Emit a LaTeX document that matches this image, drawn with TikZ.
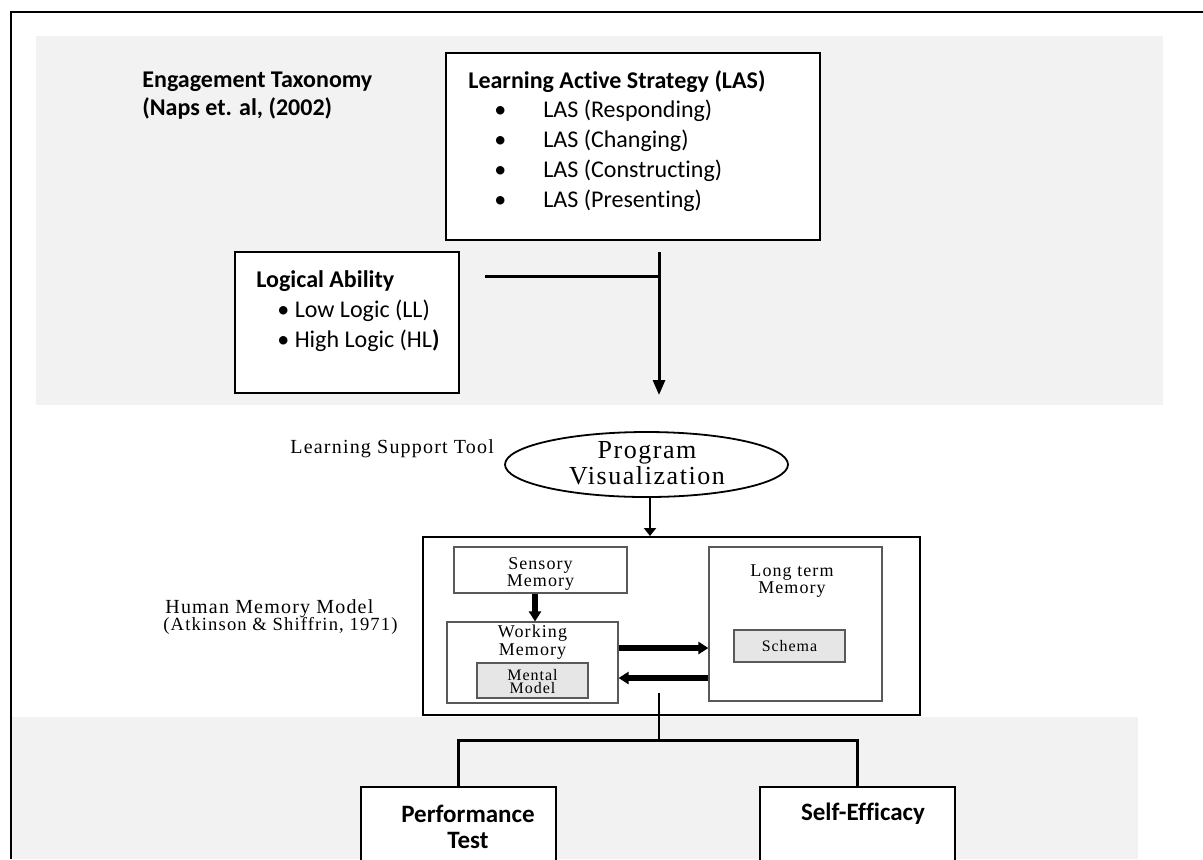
\documentclass[tikz,border=0pt]{standalone}
\usepackage{fontspec}
\setmainfont[Ligatures=NoCommon]{Carlito}
\newfontfamily\scanfont[LetterSpace=6]{Liberation Serif}
\usetikzlibrary{shapes.geometric,arrows.meta}
\definecolor{panel}{HTML}{F2F2F2}
\definecolor{inner}{HTML}{E6E6E6}
\begin{document}
\begin{tikzpicture}[x=0.5pt, y=-0.5pt,
    box/.style={draw, line width=0.8pt, inner sep=0pt},
    membox/.style={draw, gray!70!black, line width=0.6pt, inner sep=0pt},
    grey/.style={membox, fill=inner},
    label/.style={anchor=base west, inner sep=0pt, font=\fontsize{12}{14}\selectfont},
    scan/.style={inner sep=0pt, align=center, font=\scanfont\fontsize{10}{13.5}\selectfont},
    link/.style={line width=1.5pt},
    fat/.style={line width=2.6pt, -{Triangle[length=5pt, width=6pt]}}]
    \useasboundingbox (0,0) rectangle (1203,859);
    % shaded panels and frame
    \fill[panel] (36,36) rectangle (1163,405);
    \fill[panel] (11,717) rectangle (1138,859);
    \draw[line width=1pt] (11,859) -- (11,12) -- (1203,12);
    % top part
    \node[label, font=\bfseries\fontsize{12}{14}\selectfont] (taxo) at (142,87) {Engagement Taxonomy};
    \node[label, font=\bfseries\fontsize{12}{14}\selectfont] (naps) at (142,115) {(Naps et. al, (2002)};
    \node[box, fill=white, minimum width=187pt, minimum height=93.5pt] (las) at (633,146.5) {};
    \node[label, font=\bfseries\fontsize{12}{14}\selectfont] (lastitle) at (468,88) {Learning Active Strategy (LAS)};
    \foreach \txt [count=\i] in {Responding, Changing, Constructing, Presenting} {
        \node[label] (dot\i) at (494,87+30*\i) {\textbullet};
        \node[label] (item\i) at (543,87+30*\i) {LAS (\txt)};
    }
    \node[box, fill=white, minimum width=112pt, minimum height=70.5pt] (logic) at (347,322.5) {};
    \node[label, font=\bfseries\fontsize{12}{14}\selectfont] (logictitle) at (256,287) {Logical Ability};
    \node[label] (low) at (277,317) {\textbullet\ Low Logic (LL)};
    \node[label] (high) at (277,347) {\textbullet\ High Logic (HL\textbf{)}};
    \coordinate (from) at (485,276);
    \coordinate (join) at (659,276);
    \coordinate (top) at (659,252);
    \coordinate (down) at (659,395);
    \draw[link] (from) -- (join);
    \draw[link, -{Triangle[length=7.5pt, width=6pt]}] (top) -- (down);
    % learning support tool
    \node[scan, anchor=base west] (tool) at (290,453) {Learning Support Tool};
    \node[ellipse, draw, line width=0.9pt, minimum width=141.5pt, minimum height=32.5pt, inner sep=0pt] (pv) at (646.5,464.5) {};
    \node[scan, font=\scanfont\fontsize{13}{8.5}\selectfont] (pvtext) at (647,463) {Program\\Visualization};
    % human memory model
    \node[box, line width=1pt, minimum width=248.5pt, minimum height=89pt] (mem) at (671.5,626) {};
    \draw[link, line width=1.4pt, -{Triangle[length=4pt, width=6pt]}] (pv.south -| 650,0) -- (mem.north -| 650,0);
    \node[scan, anchor=base west, align=left] (hmm) at (165,613) {Human Memory Model};
    \node[scan, anchor=base west, align=left, font=\scanfont\fontsize{9.3}{12}\selectfont] (hmmref) at (163,630) {(Atkinson \& Shiffrin, 1971)};
    \node[membox, minimum width=86.5pt, minimum height=23pt] (sensory) at (540.5,570) {};
    \node[scan, font=\scanfont\fontsize{9}{7}\selectfont] at (540.5,574) {Sensory\\Memory};
    \node[membox, minimum width=85.5pt, minimum height=40.5pt] (working) at (532.5,662.5) {};
    \node[scan, font=\scanfont\fontsize{9}{7.5}\selectfont] at (532.5,642) {Working\\Memory};
    \node[grey, line width=0.9pt, minimum width=55.5pt, minimum height=17.5pt] (mental) at (532.5,680.5) {};
    \node[scan, font=\scanfont\fontsize{8}{6.5}\selectfont] at (532.5,681.5) {Mental\\Model};
    \node[membox, minimum width=86.5pt, minimum height=77pt] (longterm) at (795.5,624) {};
    \node[scan, font=\scanfont\fontsize{9}{7}\selectfont] at (792,581) {Long term\\Memory};
    \node[grey, line width=0.9pt, minimum width=55.5pt, minimum height=16pt] (schema) at (789.5,646) {};
    \node[scan, font=\scanfont\fontsize{8}{7}\selectfont] at (789.5,646) {Schema};
    \draw[line width=2.6pt, -{Triangle[length=5pt, width=6pt]}] (sensory.south -| 535,0) -- (working.north -| 535,0);
    \draw[fat] (working.east |- 0,648) -- (longterm.west |- 0,648);
    \draw[fat] (longterm.west |- 0,678) -- (working.east |- 0,678);
    % outcomes
    \node[box, fill=white, minimum width=97.5pt, minimum height=45pt] (perf) at (458.5,832) {};
    \node[box, fill=white, minimum width=97.5pt, minimum height=45pt] (self) at (857.5,832) {};
    \node[label, anchor=base, font=\bfseries\fontsize{12.5}{14}\selectfont] (perftext) at (468,822) {Performance};
    \node[label, anchor=base, font=\bfseries\fontsize{12.5}{14}\selectfont] (testtext) at (468,848) {Test};
    \node[label, anchor=base, font=\bfseries\fontsize{12.5}{14}\selectfont] (selftext) at (863,820) {Self-Efficacy};
    \coordinate (split) at (659,740);
    \draw[link, line width=1.4pt] (659,693) -- (split);
    \draw[link] (perf.north) |- (split) -| (self.north);
\end{tikzpicture}
\end{document}
